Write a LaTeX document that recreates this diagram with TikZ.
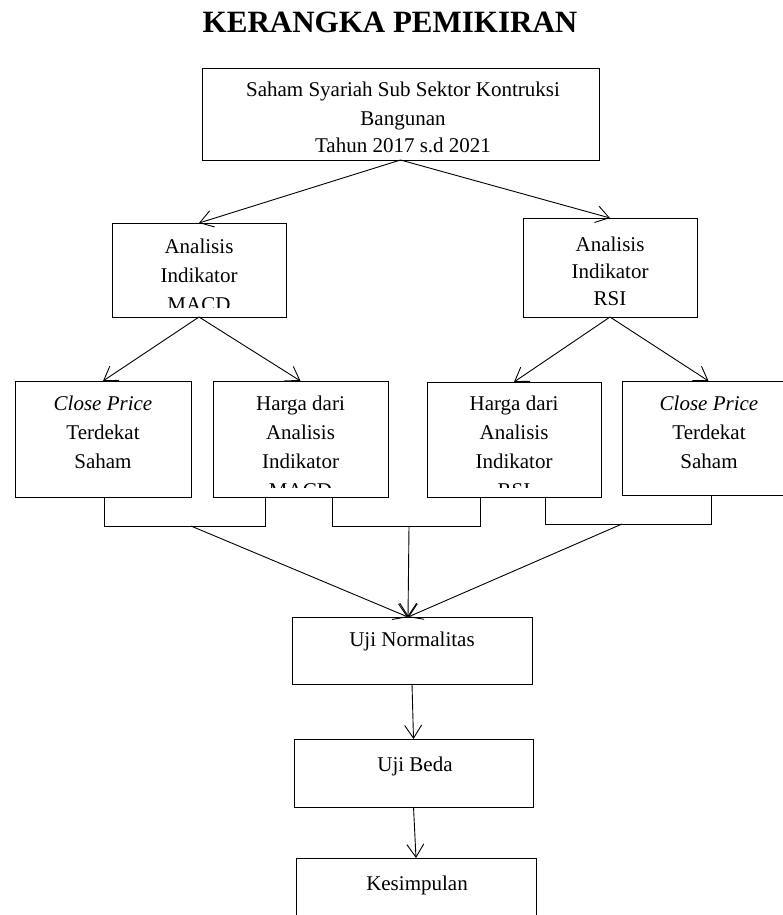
\documentclass[tikz,border=0pt]{standalone}
\usepackage{fontspec}
\setmainfont{Liberation Serif}
\usetikzlibrary{arrows.meta}
\begin{document}
\begin{tikzpicture}[x=1pt,y=-1pt,
  box/.style={draw, line width=0.9pt, rectangle, inner sep=0pt, outer sep=0pt},
  txt/.style={font=\fontsize{21}{25}\selectfont, anchor=base, inner sep=0pt},
  arr/.style={-{Straight Barb[length=13pt,width=17pt,line width=0.9pt]}, line width=0.9pt},
  ln/.style={line width=0.9pt}]
\useasboundingbox (0,0) rectangle (783,915);
\clip (0,0) rectangle (783,915);
% title
\node[font=\bfseries\fontsize{31}{36}\selectfont, anchor=base, inner sep=0pt] (title) at (390,33) {KERANGKA PEMIKIRAN};
% boxes
\node[box, minimum width=397pt, minimum height=92pt] (top) at (400.5,114) {};
\node[box, minimum width=174pt, minimum height=94pt] (macd) at (199,270) {};
\node[box, minimum width=174pt, minimum height=99pt] (rsi) at (610,267.5) {};
\node[box, minimum width=176pt, minimum height=116pt] (cp1) at (103,439) {};
\node[box, minimum width=175pt, minimum height=116pt] (hm) at (300.5,439) {};
\node[box, minimum width=174pt, minimum height=115pt] (hr) at (514,439.5) {};
\node[box, minimum width=173pt, minimum height=114pt] (cp2) at (708.5,438) {};
\node[box, minimum width=240pt, minimum height=67pt] (un) at (412,650.5) {};
\node[box, minimum width=239pt, minimum height=68pt] (ub) at (413.5,773) {};
\node[box, minimum width=240pt, minimum height=82pt] (ks) at (416,899) {};
% texts
\begin{scope}
\clip (203,69) rectangle (598,156.5);
\node[txt] (t1) at (403,97) {Saham Syariah Sub Sektor Kontruksi};
\node[txt] (t2) at (403,125) {Bangunan};
\node[txt] (t3) at (403,153) {Tahun 2017 s.d 2021};
\end{scope}
\begin{scope}
\clip (113,224) rectangle (285,307);
\node[txt] (m1) at (199,253) {Analisis};
\node[txt] (m2) at (199,282) {Indikator};
\node[txt] (m3) at (199,311) {MACD};
\end{scope}
\node[txt] (r1) at (610,251) {Analisis};
\node[txt] (r2) at (610,278) {Indikator};
\node[txt] (r3) at (610,305) {RSI};
\node[txt] (c1) at (103,410) {\itshape Close Price};
\node[txt] (c2) at (103,439) {Terdekat};
\node[txt] (c3) at (103,468) {Saham};
\begin{scope}
\clip (214,382) rectangle (387,487);
\node[txt] (h1) at (300.5,410) {Harga dari};
\node[txt] (h2) at (300.5,439) {Analisis};
\node[txt] (h3) at (300.5,468) {Indikator};
\node[txt] (h4) at (300.5,497) {MACD};
\end{scope}
\begin{scope}
\clip (428,383) rectangle (600,487);
\node[txt] (g1) at (514,410) {Harga dari};
\node[txt] (g2) at (514,439) {Analisis};
\node[txt] (g3) at (514,468) {Indikator};
\node[txt] (g4) at (514,497) {RSI};
\end{scope}
\node[txt] (d1) at (709,410) {\itshape Close Price};
\node[txt] (d2) at (709,439) {Terdekat};
\node[txt] (d3) at (709,468) {Saham};
\node[txt] (u1) at (412,646) {Uji Normalitas};
\node[txt] (b1) at (415,771) {Uji Beda};
\node[txt] (k1) at (417,890) {Kesimpulan};
% connectors
\draw[arr] (top.south) -- (macd.north);
\draw[arr] (top.south) -- (rsi.north);
\draw[arr] (macd.south) -- (cp1.north);
\draw[arr] (macd.south) -- (hm.north);
\draw[arr] (rsi.south) -- (hr.north);
\draw[arr] (rsi.south) -- (cp2.north);
\coordinate (hmA) at (265,497);
\coordinate (hmB) at (332,497);
\coordinate (hrA) at (480,497);
\coordinate (hrB) at (545,497);
\coordinate (cp2b) at (711,495);
\coordinate (cp1b) at (104,497);
\draw[ln] (cp1b) -- ++(0,29) -| (hmA);
\draw[ln] (hmB) -- ++(0,29) -| (hrA);
\draw[ln] (hrB) -- ++(0,27) -| (cp2b);
\coordinate (j1) at (191,526);
\coordinate (j2) at (409,526);
\coordinate (j3) at (622,524);
\coordinate (conv) at (408,617);
\draw[arr] (j1) -- (conv);
\draw[arr] (j2) -- (conv);
\draw[arr] (j3) -- (conv);
\draw[arr] (un.south) -- (ub.north);
\draw[arr] (ub.south) -- (ks.north);
\end{tikzpicture}
\end{document}
